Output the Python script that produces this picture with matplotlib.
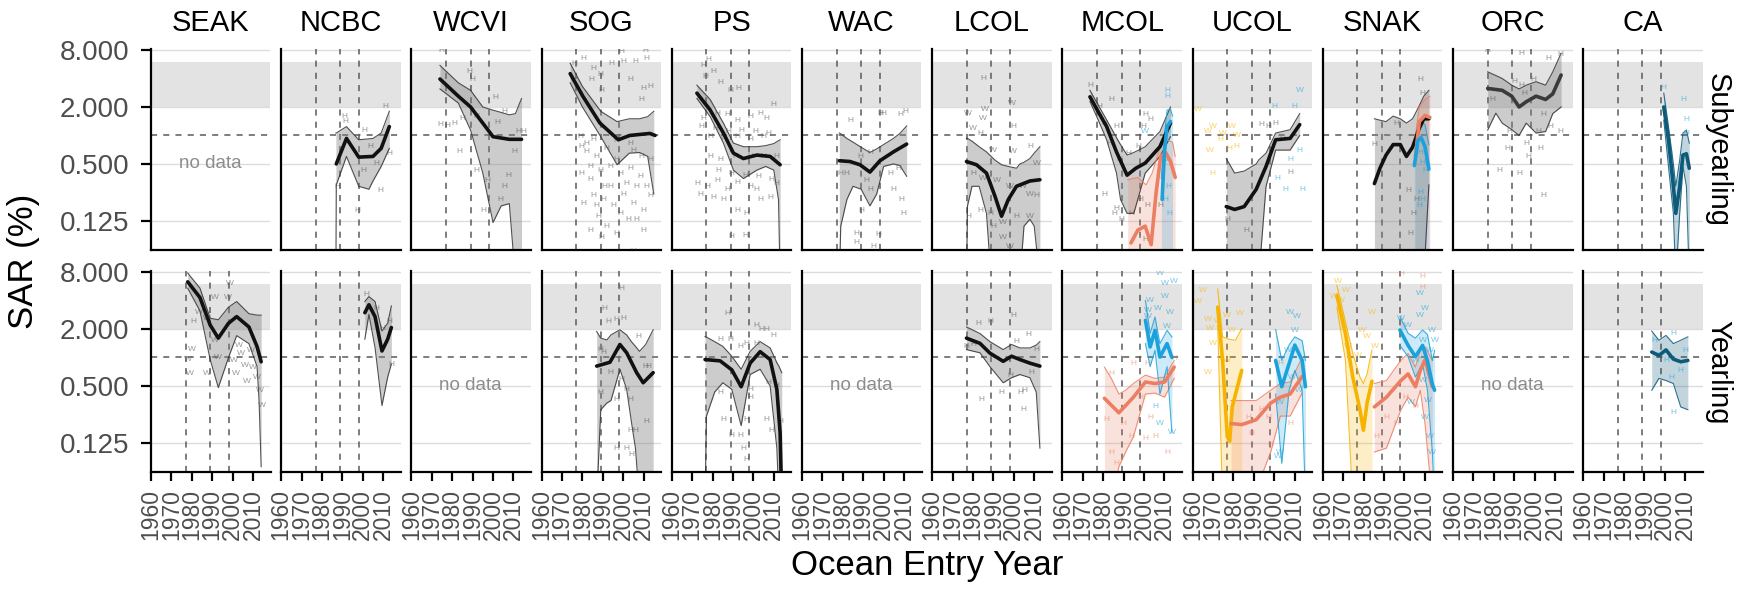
import matplotlib.pyplot as plt

plt.rcParams['font.family'] = ['Liberation Sans', 'DejaVu Sans']

# facets
regions = ['SEAK', 'NCBC', 'WCVI', 'SOG', 'PS', 'WAC', 'LCOL', 'MCOL', 'UCOL', 'SNAK', 'ORC', 'CA']
stages = ['Subyearling', 'Yearling']
no_data = [('SEAK', 'Subyearling'), ('WCVI', 'Yearling'), ('WAC', 'Yearling'), ('ORC', 'Yearling')]
regime_years = [1977, 1989, 1998]
x_ticks = [1960, 1970, 1980, 1990, 2000, 2010]
y_ticks = [0.125, 0.5, 2, 8]
y_tick_labels = ['0.125', '0.500', '2.000', '8.000']
target_lo, target_hi = 2, 6
ref_sar = 1

# ---- Subyearling ----
ncbc_s_yr = [1987, 1992, 1998, 2005, 2009, 2013]
ncbc_s_fit = [0.5, 0.93, 0.59, 0.6, 0.73, 1.24]
ncbc_s_ryr = [1986.8, 1987, 1992, 1998, 2003, 2005, 2009, 2013]
ncbc_s_hi = [1.06, 1.06, 1.24, 0.9, 0.92, 0.93, 1.06, 1.8]
ncbc_s_lo = [0.03, 0.3, 0.6, 0.29, 0.27, 0.33, 0.47, 0.73]
ncbc_s_pyr = [1990.8, 1991.7, 2001, 2011.3, 2012.8, 2000.1, 2008.5, 1997.3, 1987.4, 2003.5, 2006.6]
ncbc_s_psar = [1.58, 1.42, 1.13, 2.04, 0.64, 0.43, 0.26, 0.16, 0.29, 0.76, 0.51]

wcvi_s_yr = [1974, 1983, 1989, 1995, 2000, 2008, 2014]
wcvi_s_fit = [3.95, 2.6, 2.0, 1.35, 0.97, 0.91, 0.91]
wcvi_s_ryr = [1974, 1983, 1989, 1995, 2000, 2004, 2008, 2011, 2014]
wcvi_s_hi = [5.5, 3.6, 3.0, 2.0, 1.85, 1.75, 1.65, 1.7, 2.46]
wcvi_s_lo = [3.1, 2.2, 1.14, 0.4, 0.12, 0.18, 0.19, 0.03, 0.03]
wcvi_s_pyr = [1974.9, 1988.5, 1989.9, 2001.4, 1974, 1977.4, 1981.1, 1985.2, 1991.7, 1983.3, 1991.7,
              1997.3, 2007.6, 2010.4, 2005.7, 2003.8, 1995.4, 2002, 2005.7, 2012.2, 2015]
wcvi_s_psar = [8.0, 4.7, 3.9, 2.5, 1.29, 1.27, 1.35, 1.52, 1.58, 0.67, 0.43,
               0.33, 0.38, 0.67, 0.29, 0.21, 0.16, 1.38, 1.79, 1.1, 1.1]

sog_s_yr = [1974, 1980.4, 1988.6, 1997.6, 2003.3, 2013.1, 2015.6]
sog_s_fit = [4.5, 2.56, 1.35, 0.9, 1.0, 1.05, 1.0]
sog_s_ryr = [1974, 1980, 1989, 1997, 2003, 2008, 2012, 2015]
sog_s_hi = [5.8, 3.3, 1.8, 1.4, 1.5, 1.5, 1.58, 1.8]
sog_s_lo = [3.6, 2.0, 0.97, 0.49, 0.65, 0.66, 0.6, 0.24]
sog_s_pyr = [1976.3, 1980.4, 1985.3, 1994.3, 2000, 2005.8, 2011.5, 1999.2, 2010.7, 1984.5, 1988.6,
             2003.3, 2009.8, 2013.1, 1989.4, 2009, 1978.8, 1982.1, 1985.3, 1996.8, 2003.3, 1979.6,
             1983.7, 1988.6, 1993.5, 1998.4, 2003.3, 2008.2, 2011.5, 1985.3, 1990.2, 1995.1, 2000,
             2004.9, 2009.8, 1987.8, 1991.9, 1996.8, 1989.4, 2009.8, 2002.5, 1983.7, 1991, 2001.7, 2004.9,
             1979.6, 1982.1, 1987, 1991.9, 2004.9, 2009, 2013.1, 1983.7, 1996.8, 2006.6, 2013.1, 1993.5,
             1987, 1998.4, 2006.6, 1980.4]
sog_s_psar = [5.8, 6.5, 5.1, 5.8, 6.0, 6.0, 6.5, 7.7, 8.0, 3.9, 4.4,
              3.9, 3.1, 3.3, 3.0, 2.4, 0.97, 0.83, 0.9, 0.88, 0.83, 0.4,
              0.34, 0.43, 0.47, 0.4, 0.45, 0.37, 0.29, 0.23, 0.21, 0.18, 0.24,
              0.19, 0.16, 0.14, 0.11, 0.093, 0.083, 0.1, 0.13, 0.1, 0.29, 0.31, 0.06,
              0.76, 0.67, 0.6, 0.73, 0.7, 0.6, 0.55, 0.47, 0.55, 0.29, 0.23, 0.29,
              0.18, 0.15, 0.13, 0.19]

ps_s_yr = [1972.3, 1978.8, 1985.3, 1990.2, 1995.1, 2001.7, 2008.2, 2013.1]
ps_s_fit = [2.8, 1.86, 1.06, 0.65, 0.57, 0.62, 0.6, 0.49]
ps_s_ryr = [1972.3, 1978.8, 1985.3, 1990.2, 1995.1, 2001.7, 2006, 2010, 2012.3, 2013.1]
ps_s_hi = [3.4, 2.4, 1.35, 0.83, 0.76, 0.76, 0.78, 0.82, 0.88, 0.9]
ps_s_lo = [2.46, 1.58, 0.83, 0.43, 0.35, 0.43, 0.47, 0.43, 0.21, 0.03]
ps_s_pyr = [1975.5, 1978, 1976.3, 1980.4, 1983.7, 1988.6, 1992.7, 2009.8, 1975.5, 1982.1, 1987,
            1991.9, 1998.4, 2003.3, 2006.6, 1978.8, 1985.3, 1991.9, 1998.4, 2004.9, 1978.8, 1983.7,
            1991, 1998.4, 2004.9, 2011.5, 1972.3, 1977.2, 1982.1, 1987, 1991.9, 1998.4, 2003.3,
            2008.2, 2011.5, 1991.9, 1996.8, 1989.4, 1995.9, 1973.9, 1980.4,
            1974.7, 1981.2, 1987.8, 1994.3, 2000.8, 2007.4, 1982.9, 1989.4, 1995.9, 2002.5, 2009,
            1985.3, 2001.7]
ps_s_psar = [5.5, 6.3, 4.2, 4.7, 3.6, 3.0, 3.1, 2.1, 1.52, 1.72, 1.67,
             1.45, 1.58, 1.72, 1.52, 0.97, 0.9, 0.97, 0.9, 0.97, 0.6, 0.56,
             0.6, 0.6, 0.6, 0.6, 0.31, 0.29, 0.33, 0.27, 0.32, 0.29, 0.21,
             0.22, 0.31, 0.16, 0.15, 0.085, 0.087, 0.24, 0.22,
             1.24, 1.19, 1.09, 1.14, 1.09, 1.06, 0.43, 0.4, 0.38, 0.37, 0.34,
             0.21, 0.27]

wac_s_yr = [1978.3, 1983.5, 1988.4, 1993.3, 1998.2, 2004.8, 2011.3]
wac_s_fit = [0.54, 0.53, 0.49, 0.41, 0.54, 0.67, 0.81]
wac_s_ryr = [1978.3, 1979, 1982, 1985, 1989, 1993.3, 1996.6, 2000, 2004.8, 2008, 2011.3]
wac_s_hi = [1.06, 1.04, 0.93, 0.85, 0.75, 0.66, 0.72, 0.8, 0.93, 1.05, 1.26]
wac_s_lo = [0.03, 0.11, 0.21, 0.29, 0.27, 0.18, 0.24, 0.47, 0.5, 0.48, 0.37]
wac_s_pyr = [1983.5, 1998.2, 1999.9, 2008, 2010.5, 1988.4, 1993.3, 1978.6, 1981.9, 1991.7, 2003.1,
             2007.2, 2004.8, 2008.9, 1993.3, 1989.2, 2009.7, 1986.8, 1986.8, 1995, 1997.4]
wac_s_psar = [1.45, 1.72, 1.72, 1.67, 1.8, 0.6, 0.66, 0.4, 0.4, 0.33, 0.4,
              0.45, 0.27, 0.21, 0.27, 0.16, 0.15, 0.093, 0.073, 0.067, 0.09]

lcol_s_yr = [1976.8, 1981.7, 1986.6, 1990.7, 1994, 1997.3, 2001.3, 2007.9, 2012.8]
lcol_s_fit = [0.53, 0.49, 0.4, 0.23, 0.14, 0.21, 0.29, 0.33, 0.34]
lcol_s_ryr = [1976.8, 1977.3, 1979.5, 1983, 1986.6, 1988.9, 1990.7, 1994, 1997.3, 2001.3, 2003,
              2005, 2007.9, 2010, 2012.8]
lcol_s_hi = [0.93, 0.93, 0.87, 0.76, 0.67, 0.6, 0.55, 0.49, 0.47, 0.45, 0.5, 0.52, 0.57, 0.65, 0.76]
lcol_s_lo = [0.03, 0.18, 0.29, 0.29, 0.15, 0.03, 0.03, 0.03, 0.03, 0.03, 0.03, 0.11, 0.13, 0.11, 0.03]
lcol_s_pyr = [1985, 1998.9, 1977.6, 1985.8, 1985, 1999.7, 1980.1, 1983.4, 1989.9, 1999.7, 2007.9,
              2011.1, 1980.1, 1985, 1991.5, 1998.1, 2004.6, 2007.9, 2011.1, 1983.4, 1988.3, 1994.8,
              2001.3, 2007.9, 1989.9, 1994.8, 1998.1, 1977.6]
lcol_s_psar = [4.0, 2.2, 1.72, 1.86, 1.52, 1.24, 1.19, 1.06, 0.7, 0.68, 0.77,
               0.51, 0.4, 0.35, 0.33, 0.29, 0.29, 0.24, 0.23, 0.16, 0.15, 0.12,
               0.14, 0.14, 0.11, 0.084, 0.067, 0.14]
lcol_s_plab = 'HWWWWHWHWWHWHWWWWWHHHWHWHWWH'

mcol_s_yr = [1973.5, 1977, 1981.7, 1986.5, 1991.7, 1996, 2000.6, 2007.8, 2013]
mcol_s_fit = [2.56, 1.87, 1.24, 0.67, 0.38, 0.45, 0.51, 0.76, 1.35]
mcol_s_ryr = [1973.5, 1977, 1981.7, 1986.5, 1988.5, 1991.7, 1995, 2000.6, 2007.8, 2013]
mcol_s_hi = [3.0, 2.2, 1.46, 0.95, 0.8, 0.62, 0.66, 0.76, 1.1, 2.0]
mcol_s_lo = [2.28, 1.55, 0.9, 0.4, 0.21, 0.15, 0.15, 0.4, 0.6, 0.97]
mcol_s_pyr = [1973.5, 1984.1, 2000.7, 2003, 1999.5, 1978.2, 1980.6, 1986.5, 1982.9, 1992.4, 1997.1,
              1987.7, 1980.6, 1986.5, 1985.3, 1988.8, 1993.6, 1998.3, 2001.8, 2000.7, 2007.8]
mcol_s_psar = [3.4, 2.4, 1.65, 1.46, 1.24, 2.0, 1.35, 1.24, 0.83, 0.65, 0.76,
               0.55, 0.24, 0.17, 0.15, 0.13, 0.15, 0.21, 0.18, 0.079, 0.18]
mcol_s_sal_yr = [1993.6, 1997, 2000.6, 2003.5, 2005.9, 2008.2, 2010.6, 2013, 2015.3]
mcol_s_sal_fit = [0.073, 0.1, 0.11, 0.07, 0.245, 0.6, 0.66, 0.53, 0.36]
mcol_s_sal_ryr = [1992, 1997, 2001, 2004, 2008, 2011, 2014, 2015.3]
mcol_s_sal_hi = [0.34, 0.36, 0.3, 0.4, 0.76, 0.9, 0.85, 0.6]
mcol_s_sal_lo = [0.03, 0.03, 0.03, 0.03, 0.03, 0.03, 0.03, 0.03]
mcol_s_blu_yr = [2008.9, 2010, 2011.3, 2013]
mcol_s_blu_fit = [0.21, 0.66, 1.24, 1.4]
mcol_s_blu_ryr = [2008.5, 2010, 2011.3, 2013, 2014]
mcol_s_blu_hi = [0.35, 1.0, 1.85, 1.9, 1.6]
mcol_s_blu_lo = [0.03, 0.03, 0.03, 0.03, 0.03]
mcol_s_blu_pyr = [2011.3, 2011.3, 2000.2, 2010.1, 2011.8, 2010.6, 2012.5]
mcol_s_blu_psar = [3.0, 2.6, 1.09, 0.55, 0.29, 0.21, 0.15]

ucol_s_yr = [1976.5, 1980.6, 1985.3, 1991.2, 1996, 2000.7, 2007.8, 2012.5]
ucol_s_fit = [0.177, 0.165, 0.177, 0.27, 0.47, 0.9, 0.93, 1.3]
ucol_s_ryr = [1976.5, 1980.6, 1985.3, 1991.2, 1992.4, 1996, 2000.7, 2007.8, 2012.5]
ucol_s_hi = [0.57, 0.4, 0.42, 0.5, 0.55, 0.65, 1.06, 1.15, 1.7]
ucol_s_lo = [0.03, 0.03, 0.03, 0.03, 0.03, 0.29, 0.7, 0.7, 1.0]
ucol_s_pyr = [1993.6, 1997.1, 2000.7, 2004.2, 2007.8, 1977, 1986.5]
ucol_s_psar = [1.29, 1.24, 1.35, 0.9, 0.41, 0.13, 0.1]
ucol_s_yel_pyr = [1962.8, 1967.6, 1969.9, 1974.7, 1973.5, 1978.2, 1981.7, 1981.7, 1969.9, 1979.4, 1968.7]
ucol_s_yel_psar = [1.86, 1.1, 1.24, 1.06, 0.9, 0.73, 0.76, 1.01, 0.4, 1.24, 0.7]
ucol_s_blu_pyr = [2012.5, 2010.1, 2000, 2007.8, 2012.5, 2013.7, 2005.4, 2001.8]
ucol_s_blu_psar = [3.0, 2.0, 2.0, 0.55, 0.7, 0.27, 0.27, 0.35]

snak_s_yr = [1985.3, 1988, 1991, 1994.5, 1998, 2001, 2004, 2007, 2009.5, 2012]
snak_s_fit = [0.31, 0.45, 0.62, 0.8, 0.8, 0.6, 0.75, 1.15, 1.5, 1.5]
snak_s_hi = [1.5, 1.45, 1.4, 1.6, 1.5, 1.35, 1.5, 2.0, 2.6, 3.0]
snak_s_lo = [0.03, 0.03, 0.03, 0.03, 0.03, 0.03, 0.03, 0.03, 0.03, 0.3]
snak_s_pyr = [1985.3, 1995.9, 2007.8, 2009, 2005.9, 2004.2, 2001.8, 2003]
snak_s_psar = [0.8, 1.35, 3.9, 2.8, 0.21, 0.15, 0.26, 0.093]
snak_s_sal_yr = [2005.4, 2007.3, 2010.1, 2012.5]
snak_s_sal_fit = [0.6, 1.4, 1.63, 1.55]
snak_s_sal_hi = [1.0, 2.0, 2.4, 2.6]
snak_s_sal_lo = [0.03, 0.03, 0.03, 0.03]
snak_s_blu_yr = [2004.9, 2006.6, 2008.2, 2010.1, 2012]
snak_s_blu_fit = [0.48, 0.88, 0.95, 0.76, 0.44]
snak_s_blu_hi = [0.8, 1.3, 1.4, 1.3, 0.8]
snak_s_blu_lo = [0.03, 0.03, 0.03, 0.03, 0.03]
snak_s_blu_pyr = [2007.8, 2009, 2007.3, 2009, 2010.1, 2007.8]
snak_s_blu_psar = [0.25, 0.21, 0.18, 0.52, 0.43, 0.66]

orc_s_yr = [1977, 1984.1, 1988.8, 1992.4, 1995.9, 2000.7, 2005.4, 2008.9, 2013]
orc_s_fit = [3.14, 3.0, 2.6, 2.0, 2.27, 2.6, 2.4, 2.75, 4.35]
orc_s_ryr = [1977, 1981, 1984.1, 1988.8, 1992.4, 1995.9, 2000.7, 2005.4, 2008.9, 2013]
orc_s_hi = [4.7, 4.3, 4.0, 3.4, 3.1, 3.4, 3.7, 3.4, 4.7, 7.4]
orc_s_lo = [1.14, 1.72, 1.35, 1.15, 1.0, 1.35, 1.06, 1.1, 1.7, 2.0]
orc_s_pyr = [1977, 1993.6, 2006.6, 2012.5, 1989.9, 1993.6, 1999.5, 1994.8, 2004.2, 2007.8, 2001.8,
             2012.5, 1987.6, 1995.9, 1986.5, 2003, 1982.9, 1992.4, 2004.2, 1997.1, 1979.4]
orc_s_psar = [8.0, 7.4, 6.5, 7.1, 3.7, 3.4, 3.9, 2.8, 1.65, 1.24, 1.1,
              1.1, 1.1, 0.83, 0.73, 0.73, 0.43, 0.4, 0.23, 0.6, 2.4]

ca_s_yr = [1999.5, 2001.8, 2004.2, 2005.4, 2007.3, 2008.9, 2010.6, 2012]
ca_s_fit = [2.0, 0.9, 0.29, 0.15, 0.29, 0.62, 0.64, 0.45]
ca_s_hi = [2.8, 1.24, 0.5, 0.29, 0.55, 1.06, 1.14, 0.83]
ca_s_lo = [1.45, 0.47, 0.15, 0.03, 0.15, 0.47, 0.29, 0.03]
ca_s_pyr = [1999.1, 2009.3, 2010.4, 2002.2, 2006.9, 2003.4, 2010.4]
ca_s_psar = [3.2, 2.4, 1.46, 0.65, 0.31, 0.4, 1.06]

# ---- Yearling ----
seak_y_yr = [1978, 1984, 1989, 1993, 1998, 2002, 2008, 2012, 2014]
seak_y_fit = [6.3, 4.3, 2.2, 1.6, 2.3, 2.7, 2.1, 1.3, 0.9]
seak_y_ryr = [1978, 1984, 1989, 1993, 1998, 2002, 2008, 2012, 2013, 2014]
seak_y_hi = [7.8, 5.4, 2.6, 2.5, 3.4, 3.9, 2.9, 2.8, 2.8, 2.8]
seak_y_lo = [5.4, 3.1, 0.95, 0.48, 1.0, 1.7, 1.4, 0.8, 0.34, 0.07]
seak_y_pyr = [1998.6, 1997.7, 1991.2, 1983.7, 1987.4, 1980.9, 1980, 1978.1, 1979, 1987.4, 1993, 2000.5,
              2004.2, 2006.1, 2009.8, 2011.7, 2013.5, 2014.5, 2008.9, 2003.3, 2001.4, 2007, 1991.2]
seak_y_psar = [6.1, 4.3, 4.3, 3.0, 2.6, 2.4, 1.2, 0.96, 0.67, 0.67, 1.0, 0.92,
               1.09, 0.82, 0.78, 0.62, 0.45, 0.31, 1.17, 1.33, 0.67, 0.55, 1.5]
seak_y_plab = 'WWWWWHWWWWWWWWWWWWWWWWW'

ncbc_y_yr = [2001, 2003, 2006, 2009.4, 2012.2, 2014]
ncbc_y_fit = [2.97, 3.6, 2.7, 1.17, 1.56, 2.07]
ncbc_y_hi = [3.9, 4.4, 3.9, 1.9, 2.3, 3.5]
ncbc_y_lo = [1.56, 2.85, 1.27, 0.31, 0.62, 0.85]
ncbc_y_pyr = [2001.6, 2009.4, 2013, 2013.9, 2006.6]
ncbc_y_psar = [4.6, 2.0, 2.4, 0.85, 3.3]

sog_y_yr = [1987, 1993.5, 1998.4, 2001.7, 2006.6, 2009.8, 2014.7]
sog_y_fit = [0.81, 0.89, 1.37, 1.12, 0.69, 0.54, 0.69]
sog_y_ryr = [1987, 1989, 1992, 1994, 1998.4, 2001.7, 2004, 2006, 2008, 2011, 2014.7]
sog_y_hi = [1.88, 1.6, 1.53, 1.73, 1.96, 1.73, 1.47, 1.31, 1.16, 1.37, 1.96]
sog_y_lo = [0.03, 0.28, 0.33, 0.35, 0.75, 0.46, 0.21, 0.11, 0.03, 0.03, 0.03]
sog_y_pyr = [1999.2, 1991, 1992.7, 1996.8, 2000, 1988.6, 1990.2, 2007.4, 2010.7, 2012.3, 1993.5,
             1999.2, 2001.7, 1996.8, 2003.3, 1988.6, 2011.5, 2003.3, 2005.8, 1996.8, 2001.7, 2004.1]
sog_y_psar = [5.3, 3.3, 2.4, 2.5, 2.6, 1.21, 1.12, 1.66, 0.81, 0.81, 0.69,
              0.59, 0.46, 0.36, 0.36, 0.43, 0.21, 0.17, 0.17, 0.11, 0.11, 0.095]

ps_y_yr = [1976.3, 1983.7, 1989.4, 1994, 1998.4, 2003.3, 2008.2, 2011.5, 2013.1, 2013.9]
ps_y_fit = [0.95, 0.92, 0.74, 0.49, 0.87, 1.15, 0.95, 0.46, 0.16, 0.03]
ps_y_ryr = [1976.3, 1977, 1981, 1985, 1989.4, 1994, 1998.4, 2003.3, 2008.2, 2011.5, 2012.5, 2013.9]
ps_y_hi = [1.66, 1.64, 1.47, 1.31, 1.03, 0.75, 1.16, 1.47, 1.26, 0.88, 0.81, 0.69]
ps_y_lo = [0.03, 0.24, 0.43, 0.54, 0.46, 0.19, 0.66, 0.75, 0.5, 0.11, 0.03, 0.03]
ps_y_pyr = [1987, 2001.7, 2004.1, 2006.6, 1983.7, 1988.6, 1993.5, 1996.8, 2009.8, 2001.7, 2007.4, 2011.5,
            1983.7, 1998.4, 2006.6, 2013.1, 2009, 1985.3, 1996.8, 1989.4, 1993.5, 1995.1, 1996.8, 1998.4]
ps_y_psar = [2.9, 2.2, 1.96, 1.96, 1.53, 1.53, 1.31, 1.41, 1.69, 1.41, 0.54, 0.5,
             0.43, 0.46, 0.22, 0.21, 0.17, 0.22, 0.22, 0.15, 0.15, 0.11, 0.083, 0.38]

lcol_y_yr = [1976.8, 1983.4, 1988.3, 1994.8, 1998.9, 2003, 2007.9, 2012.8]
lcol_y_fit = [1.6, 1.41, 1.11, 0.91, 1.03, 0.95, 0.87, 0.81]
lcol_y_ryr = [1976.8, 1983.4, 1988.3, 1994.8, 1998.9, 2003, 2007.9, 2011, 2012.8]
lcol_y_hi = [2.1, 1.79, 1.47, 1.21, 1.37, 1.26, 1.26, 1.35, 1.47]
lcol_y_lo = [1.21, 1.12, 0.8, 0.54, 0.61, 0.66, 0.61, 0.43, 0.11]
lcol_y_pyr = [1988.3, 1982.5, 1999.7, 2007.1, 1976.8, 1980.1, 2001.3, 2011.1, 2008.7, 1984.2, 1994,
              2003, 2005.4, 2004.6, 1998.1]
lcol_y_psar = [2.4, 2.3, 2.8, 1.73, 1.31, 1.37, 1.47, 1.21, 0.69, 0.36, 0.43,
               0.43, 0.45, 0.28, 0.64]

mcol_y_sal_yr = [1980.6, 1987.7, 1994.8, 2000.7, 2005.4, 2010.1, 2014.8]
mcol_y_sal_fit = [0.37, 0.26, 0.38, 0.55, 0.53, 0.55, 0.79]
mcol_y_sal_ryr = [1980.6, 1984, 1987.7, 1991, 1994.8, 2000.7, 2005.4, 2010.1, 2014.8]
mcol_y_sal_hi = [0.79, 0.6, 0.41, 0.45, 0.53, 0.65, 0.6, 0.62, 0.93]
mcol_y_sal_lo = [0.03, 0.03, 0.07, 0.1, 0.145, 0.41, 0.42, 0.38, 0.6]
mcol_y_sal_pyr = [1984.1, 1994.8, 2001.8, 1998.3, 1990, 1993.6, 2000.7, 2005.4, 2011.3, 1984.1, 1986.5,
                  1981.7, 2003, 2014.8]
mcol_y_sal_psar = [0.67, 0.86, 0.86, 0.38, 0.2, 0.145, 0.14, 0.145, 0.1, 0.1, 0.075, 0.22, 0.23, 0.97]
mcol_y_blu_yr = [2000.7, 2003, 2005.4, 2007.8, 2011.3, 2013.7]
mcol_y_blu_fit = [2.47, 1.29, 1.93, 1.01, 1.4, 1.0]
mcol_y_blu_hi = [4.0, 1.79, 2.68, 1.4, 1.93, 1.65]
mcol_y_blu_lo = [1.4, 0.8, 1.19, 0.41, 0.8, 0.16]
mcol_y_blu_pyr = [2007.8, 2010.1, 2014.8, 2003, 2006.6, 2010.1, 2012.5, 2001.8, 2011.3, 2005.4, 2007.8,
                  2013.7, 2001.8]
mcol_y_blu_psar = [7.7, 6.0, 6.3, 4.0, 3.3, 4.4, 3.0, 3.1, 2.1, 0.3, 0.2, 0.16, 2.7]
mcol_y_blu_plab = 'WWWWWWWWWHWWW'

ucol_y_yel_yr = [1972.3, 1974.7, 1977, 1978.2, 1979.4, 1984.1]
ucol_y_yel_fit = [3.4, 0.93, 0.145, 0.13, 0.3, 0.73]
ucol_y_yel_ryr = [1972.3, 1974.7, 1977, 1978.2, 1981, 1984.1]
ucol_y_yel_hi = [5.3, 1.65, 1.58, 1.55, 1.52, 2.02]
ucol_y_yel_lo = [2.2, 0.03, 0.03, 0.03, 0.03, 0.03]
ucol_y_yel_pyr = [1965.2, 1967.6, 1962.8, 1972.3, 1968.7, 1977, 1969.9, 1967.6, 1977, 1975.8, 1983, 1979.4]
ucol_y_yel_psar = [5.1, 2.5, 3.9, 2.4, 2.0, 2.8, 1.4, 0.7, 0.93, 0.51, 2.9, 1.93]
ucol_y_sal_yr = [1978.9, 1984.1, 1991.2, 1998.3, 2003, 2007.8, 2013.7]
ucol_y_sal_fit = [0.2, 0.195, 0.22, 0.33, 0.38, 0.41, 0.63]
ucol_y_sal_hi = [0.35, 0.35, 0.35, 0.45, 0.53, 0.55, 1.0]
ucol_y_sal_lo = [0.03, 0.03, 0.04, 0.1, 0.24, 0.24, 0.42]
ucol_y_sal_pyr = [1988.8, 1993.6, 1997.1, 1998.3, 2007.8, 2005.4, 2003, 1987.1]
ucol_y_sal_psar = [0.157, 0.28, 0.23, 0.12, 0.2, 0.38, 0.86, 0.23]
ucol_y_blu_yr = [2000.7, 2003.7, 2007.3, 2010.1, 2013.7, 2015.3]
ucol_y_blu_fit = [0.93, 0.49, 0.86, 1.35, 0.93, 0.49]
ucol_y_blu_hi = [1.97, 0.93, 1.35, 1.65, 1.5, 0.93]
ucol_y_blu_lo = [0.41, 0.076, 0.45, 0.73, 0.45, 0.03]
ucol_y_blu_pyr = [2007.8, 2011.3, 2010.1, 2006.6, 2008.9, 2003, 2003, 2012.3, 2001.8]
ucol_y_blu_psar = [3.0, 2.7, 1.93, 1.19, 0.62, 0.33, 0.1, 0.45, 0.09]

snak_y_yel_yr = [1966.9, 1971.1, 1974.7, 1978.2, 1979.9, 1981.7, 1984.1]
snak_y_yel_fit = [4.53, 1.79, 0.62, 0.28, 0.17, 0.33, 0.56]
snak_y_yel_hi = [5.8, 2.4, 1.1, 0.62, 0.53, 0.67, 1.2]
snak_y_yel_lo = [3.4, 0.93, 0.03, 0.03, 0.03, 0.03, 0.03]
snak_y_yel_pyr = [1967.4, 1971.1, 1965.2, 1968.7, 1984.1, 1981.7, 1985.3, 1979.4, 1977, 1972.3]
snak_y_yel_psar = [6.3, 5.1, 4.4, 4.0, 3.0, 1.65, 1.29, 1.93, 1.06, 1.29]
snak_y_sal_yr = [1985.3, 1991.2, 1998.3, 2001.8, 2005.4, 2007.8, 2010.1, 2013.7]
snak_y_sal_fit = [0.3, 0.38, 0.57, 0.67, 0.49, 0.73, 0.94, 0.49]
snak_y_sal_hi = [0.53, 0.57, 0.93, 1.1, 0.79, 1.19, 1.29, 0.93]
snak_y_sal_lo = [0.1, 0.11, 0.28, 0.38, 0.3, 0.45, 0.2, 0.03]
snak_y_sal_pyr = [1998.3, 2008.9, 2008.9, 1995.9, 1991.2, 1986.5, 2005.4, 2000.7]
snak_y_sal_psar = [7.7, 7.1, 5.5, 0.2, 0.23, 0.145, 0.3, 0.38]
snak_y_blu_yr = [1997.8, 2001.8, 2005.4, 2008.9, 2011.3, 2013.7, 2014.8]
snak_y_blu_fit = [1.95, 1.34, 1.02, 1.34, 0.92, 0.52, 0.45]
snak_y_blu_hi = [2.7, 1.8, 1.6, 1.95, 1.75, 0.93, 1.19]
snak_y_blu_lo = [1.34, 1.02, 0.62, 0.86, 0.45, 0.1, 0.03]
snak_y_blu_pyr = [1998.3, 2001.8, 2007.8, 2010.1, 2013.7, 2008.9, 2012.5, 2005.4, 2008.9, 2011.3, 2010.1,
                  2012.5, 2013.7, 2003, 2007.8, 2014.8]
snak_y_blu_psar = [2.6, 2.2, 4.7, 3.3, 1.93, 1.52, 1.19, 0.93, 0.57, 0.35, 0.23,
                   0.145, 0.1, 0.33, 2.8, 1.52]

ca_y_yr = [1993.6, 1997.1, 2000.6, 2004.2, 2007.8, 2011.3]
ca_y_fit = [1.14, 1.05, 1.2, 0.96, 0.9, 0.93]
ca_y_hi = [1.9, 1.52, 1.71, 1.4, 1.52, 1.65]
ca_y_lo = [0.45, 0.6, 0.57, 0.53, 0.3, 0.28]
ca_y_pyr = [2004.2, 1994.8, 1997.1, 2000.6, 2003, 2010.1, 2004.2, 2007.8]
ca_y_psar = [1.79, 1.52, 1.06, 0.93, 0.62, 1.19, 0.26, 0.73]

S, Y = 'Subyearling', 'Yearling'
# (region, stage, colour, years, fit, ribbon years, lower, upper)
smooths = [
    ('NCBC', S, 'blk', ncbc_s_yr, ncbc_s_fit, ncbc_s_ryr, ncbc_s_lo, ncbc_s_hi),
    ('WCVI', S, 'blk', wcvi_s_yr, wcvi_s_fit, wcvi_s_ryr, wcvi_s_lo, wcvi_s_hi),
    ('SOG', S, 'blk', sog_s_yr, sog_s_fit, sog_s_ryr, sog_s_lo, sog_s_hi),
    ('PS', S, 'blk', ps_s_yr, ps_s_fit, ps_s_ryr, ps_s_lo, ps_s_hi),
    ('WAC', S, 'blk', wac_s_yr, wac_s_fit, wac_s_ryr, wac_s_lo, wac_s_hi),
    ('LCOL', S, 'blk', lcol_s_yr, lcol_s_fit, lcol_s_ryr, lcol_s_lo, lcol_s_hi),
    ('MCOL', S, 'blk', mcol_s_yr, mcol_s_fit, mcol_s_ryr, mcol_s_lo, mcol_s_hi),
    ('MCOL', S, 'sal', mcol_s_sal_yr, mcol_s_sal_fit, mcol_s_sal_ryr, mcol_s_sal_lo, mcol_s_sal_hi),
    ('MCOL', S, 'blu', mcol_s_blu_yr, mcol_s_blu_fit, mcol_s_blu_ryr, mcol_s_blu_lo, mcol_s_blu_hi),
    ('UCOL', S, 'blk', ucol_s_yr, ucol_s_fit, ucol_s_ryr, ucol_s_lo, ucol_s_hi),
    ('SNAK', S, 'blk', snak_s_yr, snak_s_fit, snak_s_yr, snak_s_lo, snak_s_hi),
    ('SNAK', S, 'sal', snak_s_sal_yr, snak_s_sal_fit, snak_s_sal_yr, snak_s_sal_lo, snak_s_sal_hi),
    ('SNAK', S, 'blu', snak_s_blu_yr, snak_s_blu_fit, snak_s_blu_yr, snak_s_blu_lo, snak_s_blu_hi),
    ('ORC', S, 'dgr', orc_s_yr, orc_s_fit, orc_s_ryr, orc_s_lo, orc_s_hi),
    ('CA', S, 'teal', ca_s_yr, ca_s_fit, ca_s_yr, ca_s_lo, ca_s_hi),
    ('SEAK', Y, 'blk', seak_y_yr, seak_y_fit, seak_y_ryr, seak_y_lo, seak_y_hi),
    ('NCBC', Y, 'blk', ncbc_y_yr, ncbc_y_fit, ncbc_y_yr, ncbc_y_lo, ncbc_y_hi),
    ('SOG', Y, 'blk', sog_y_yr, sog_y_fit, sog_y_ryr, sog_y_lo, sog_y_hi),
    ('PS', Y, 'blk', ps_y_yr, ps_y_fit, ps_y_ryr, ps_y_lo, ps_y_hi),
    ('LCOL', Y, 'blk', lcol_y_yr, lcol_y_fit, lcol_y_ryr, lcol_y_lo, lcol_y_hi),
    ('MCOL', Y, 'sal', mcol_y_sal_yr, mcol_y_sal_fit, mcol_y_sal_ryr, mcol_y_sal_lo, mcol_y_sal_hi),
    ('MCOL', Y, 'blu', mcol_y_blu_yr, mcol_y_blu_fit, mcol_y_blu_yr, mcol_y_blu_lo, mcol_y_blu_hi),
    ('UCOL', Y, 'yel', ucol_y_yel_yr, ucol_y_yel_fit, ucol_y_yel_ryr, ucol_y_yel_lo, ucol_y_yel_hi),
    ('UCOL', Y, 'sal', ucol_y_sal_yr, ucol_y_sal_fit, ucol_y_sal_yr, ucol_y_sal_lo, ucol_y_sal_hi),
    ('UCOL', Y, 'blu', ucol_y_blu_yr, ucol_y_blu_fit, ucol_y_blu_yr, ucol_y_blu_lo, ucol_y_blu_hi),
    ('SNAK', Y, 'yel', snak_y_yel_yr, snak_y_yel_fit, snak_y_yel_yr, snak_y_yel_lo, snak_y_yel_hi),
    ('SNAK', Y, 'sal', snak_y_sal_yr, snak_y_sal_fit, snak_y_sal_yr, snak_y_sal_lo, snak_y_sal_hi),
    ('SNAK', Y, 'blu', snak_y_blu_yr, snak_y_blu_fit, snak_y_blu_yr, snak_y_blu_lo, snak_y_blu_hi),
    ('CA', Y, 'teal', ca_y_yr, ca_y_fit, ca_y_yr, ca_y_lo, ca_y_hi),
]

# (region, stage, colour, years, SAR, labels)
points = [
    ('NCBC', S, 'blk', ncbc_s_pyr, ncbc_s_psar, None),
    ('WCVI', S, 'blk', wcvi_s_pyr, wcvi_s_psar, None),
    ('SOG', S, 'blk', sog_s_pyr, sog_s_psar, None),
    ('PS', S, 'blk', ps_s_pyr, ps_s_psar, None),
    ('WAC', S, 'blk', wac_s_pyr, wac_s_psar, None),
    ('LCOL', S, 'blk', lcol_s_pyr, lcol_s_psar, lcol_s_plab),
    ('MCOL', S, 'blk', mcol_s_pyr, mcol_s_psar, None),
    ('MCOL', S, 'blu', mcol_s_blu_pyr, mcol_s_blu_psar, 'HHWWHHH'),
    ('UCOL', S, 'blk', ucol_s_pyr, ucol_s_psar, None),
    ('UCOL', S, 'yel', ucol_s_yel_pyr, ucol_s_yel_psar, 'WWWWHHHWHWW'),
    ('UCOL', S, 'blu', ucol_s_blu_pyr, ucol_s_blu_psar, 'WHHHHHHH'),
    ('SNAK', S, 'blk', snak_s_pyr, snak_s_psar, None),
    ('SNAK', S, 'blu', snak_s_blu_pyr, snak_s_blu_psar, None),
    ('ORC', S, 'blk', orc_s_pyr, orc_s_psar, None),
    ('CA', S, 'blu', ca_s_pyr, ca_s_psar, None),
    ('SEAK', Y, 'blk', seak_y_pyr, seak_y_psar, seak_y_plab),
    ('NCBC', Y, 'blk', ncbc_y_pyr, ncbc_y_psar, None),
    ('SOG', Y, 'blk', sog_y_pyr, sog_y_psar, None),
    ('PS', Y, 'blk', ps_y_pyr, ps_y_psar, None),
    ('LCOL', Y, 'blk', lcol_y_pyr, lcol_y_psar, None),
    ('MCOL', Y, 'sal', mcol_y_sal_pyr, mcol_y_sal_psar, None),
    ('MCOL', Y, 'blu', mcol_y_blu_pyr, mcol_y_blu_psar, mcol_y_blu_plab),
    ('UCOL', Y, 'yel', ucol_y_yel_pyr, ucol_y_yel_psar, 'WWWWWWWWWHWW'),
    ('UCOL', Y, 'sal', ucol_y_sal_pyr, ucol_y_sal_psar, None),
    ('UCOL', Y, 'blu', ucol_y_blu_pyr, ucol_y_blu_psar, 'WWWWWWWWW'),
    ('SNAK', Y, 'yel', snak_y_yel_pyr, snak_y_yel_psar, 'WWWWWWWWWW'),
    ('SNAK', Y, 'sal', snak_y_sal_pyr, snak_y_sal_psar, None),
    ('SNAK', Y, 'blu', snak_y_blu_pyr, snak_y_blu_psar, 'W' * 16),
    ('CA', Y, 'blu', ca_y_pyr, ca_y_psar, None),
]

line_col = {'blk': '#111111', 'dgr': '#3a3a3a', 'sal': '#EC7F63', 'blu': '#1BA1DB',
            'yel': '#F6B300', 'teal': '#0E5A7A'}
rib_col = {'blk': '#808080', 'dgr': '#808080', 'sal': '#EC7F63', 'blu': '#1BA1DB',
           'yel': '#F6B300', 'teal': '#0E5A7A'}
rib_alpha = {'blk': 0.4, 'dgr': 0.4, 'sal': 0.22, 'blu': 0.22, 'yel': 0.22, 'teal': 0.25}
pt_col = {'blk': '#555555', 'sal': '#EC7F63', 'blu': '#1BA1DB', 'yel': '#F6B300'}

# layout in pixels of the 1756 x 589 image
W, H = 1756, 589
fig = plt.figure(figsize=(W / 100, H / 100), dpi=100)
panel_left0, panel_step, panel_w = 151, 130.2, 119.5
row_top = [49, 271]
panel_h = 201

axes = {}
for r, stage in enumerate(stages):
    for c, reg in enumerate(regions):
        left = panel_left0 + panel_step * c
        ax = fig.add_axes([left / W, 1 - (row_top[r] + panel_h) / H, panel_w / W, panel_h / H])
        axes[(reg, stage)] = ax
        ax.set_yscale('log', base=2)
        ax.set_ylim(0.0615, 8.2)
        ax.set_xlim(1960, 1960 + panel_w / 2.04)
        ax.axhspan(target_lo, target_hi, color='#e3e3e3', lw=0, zorder=0)
        for yt in y_ticks:
            ax.axhline(yt, color='#dcdcdc', lw=1.0, zorder=0.5)
        ax.axhline(ref_sar, color='#5a5a5a', lw=1.1, ls=(0, (4, 4)), zorder=1)
        if (reg, stage) in no_data:
            ax.text(1989, 0.5, 'no data', ha='center', va='center', fontsize=13.5, color='#8c8c8c')
        else:
            for ry in regime_years:
                ax.axvline(ry, color='#5a5a5a', lw=1.1, ls=(0, (4, 4)), zorder=1)
        for side in ['top', 'right']:
            ax.spines[side].set_visible(False)
        for side in ['left', 'bottom']:
            ax.spines[side].set_linewidth(1.6)
            ax.spines[side].set_color('black')
        ax.set_yticks(y_ticks)
        ax.minorticks_off()
        if c == 0:
            ax.set_yticklabels(y_tick_labels, fontsize=20, color='#4d4d4d')
            ax.tick_params(axis='y', length=7, width=1.6, pad=8.5)
        else:
            ax.set_yticklabels([])
            ax.tick_params(axis='y', length=0)
        ax.set_xticks(x_ticks)
        if r == 1:
            ax.set_xticklabels([str(t) for t in x_ticks], rotation=90, fontsize=16.5, color='#4d4d4d')
            ax.tick_params(axis='x', length=6.5, width=1.6, pad=6)
        else:
            ax.set_xticklabels([])
            ax.tick_params(axis='x', length=0)
        if r == 0:
            ax.text(0.5, 1.13, reg, transform=ax.transAxes, ha='center', va='center', fontsize=21)

for reg, stage, col, yr, fit, ryr, lo, hi in smooths:
    ax = axes[(reg, stage)]
    ax.fill_between(ryr, lo, hi, color=rib_col[col], alpha=rib_alpha[col], lw=0, zorder=2)
    edge = '#333333' if col in ('blk', 'dgr') else line_col[col]
    ax.plot(ryr, lo, color=edge, lw=0.8, alpha=0.85, zorder=2.5)
    ax.plot(ryr, hi, color=edge, lw=0.8, alpha=0.85, zorder=2.5)
    ax.plot(yr, fit, color=line_col[col], lw=2.6, zorder=4, solid_capstyle='round')

for reg, stage, col, pyr, psar, labs in points:
    ax = axes[(reg, stage)]
    if labs is None:
        labs = 'H' * len(pyr)
    for x, y, lab in zip(pyr, psar, labs):
        ax.text(x, y, lab, fontsize=6, color=pt_col[col], alpha=0.6, ha='center', va='center',
                clip_on=True, zorder=3)

fig.text(1718 / W, 1 - 150 / H, 'Subyearling', rotation=-90, ha='center', va='center', fontsize=21)
fig.text(1718 / W, 1 - 372 / H, 'Yearling', rotation=-90, ha='center', va='center', fontsize=21)
fig.text(927 / W, 1 - 565 / H, 'Ocean Entry Year', ha='center', va='center', fontsize=25)
fig.text(23 / W, 1 - 261 / H, 'SAR (%)', rotation=90, ha='center', va='center', fontsize=25)

fig.savefig('out.png', dpi=100)
